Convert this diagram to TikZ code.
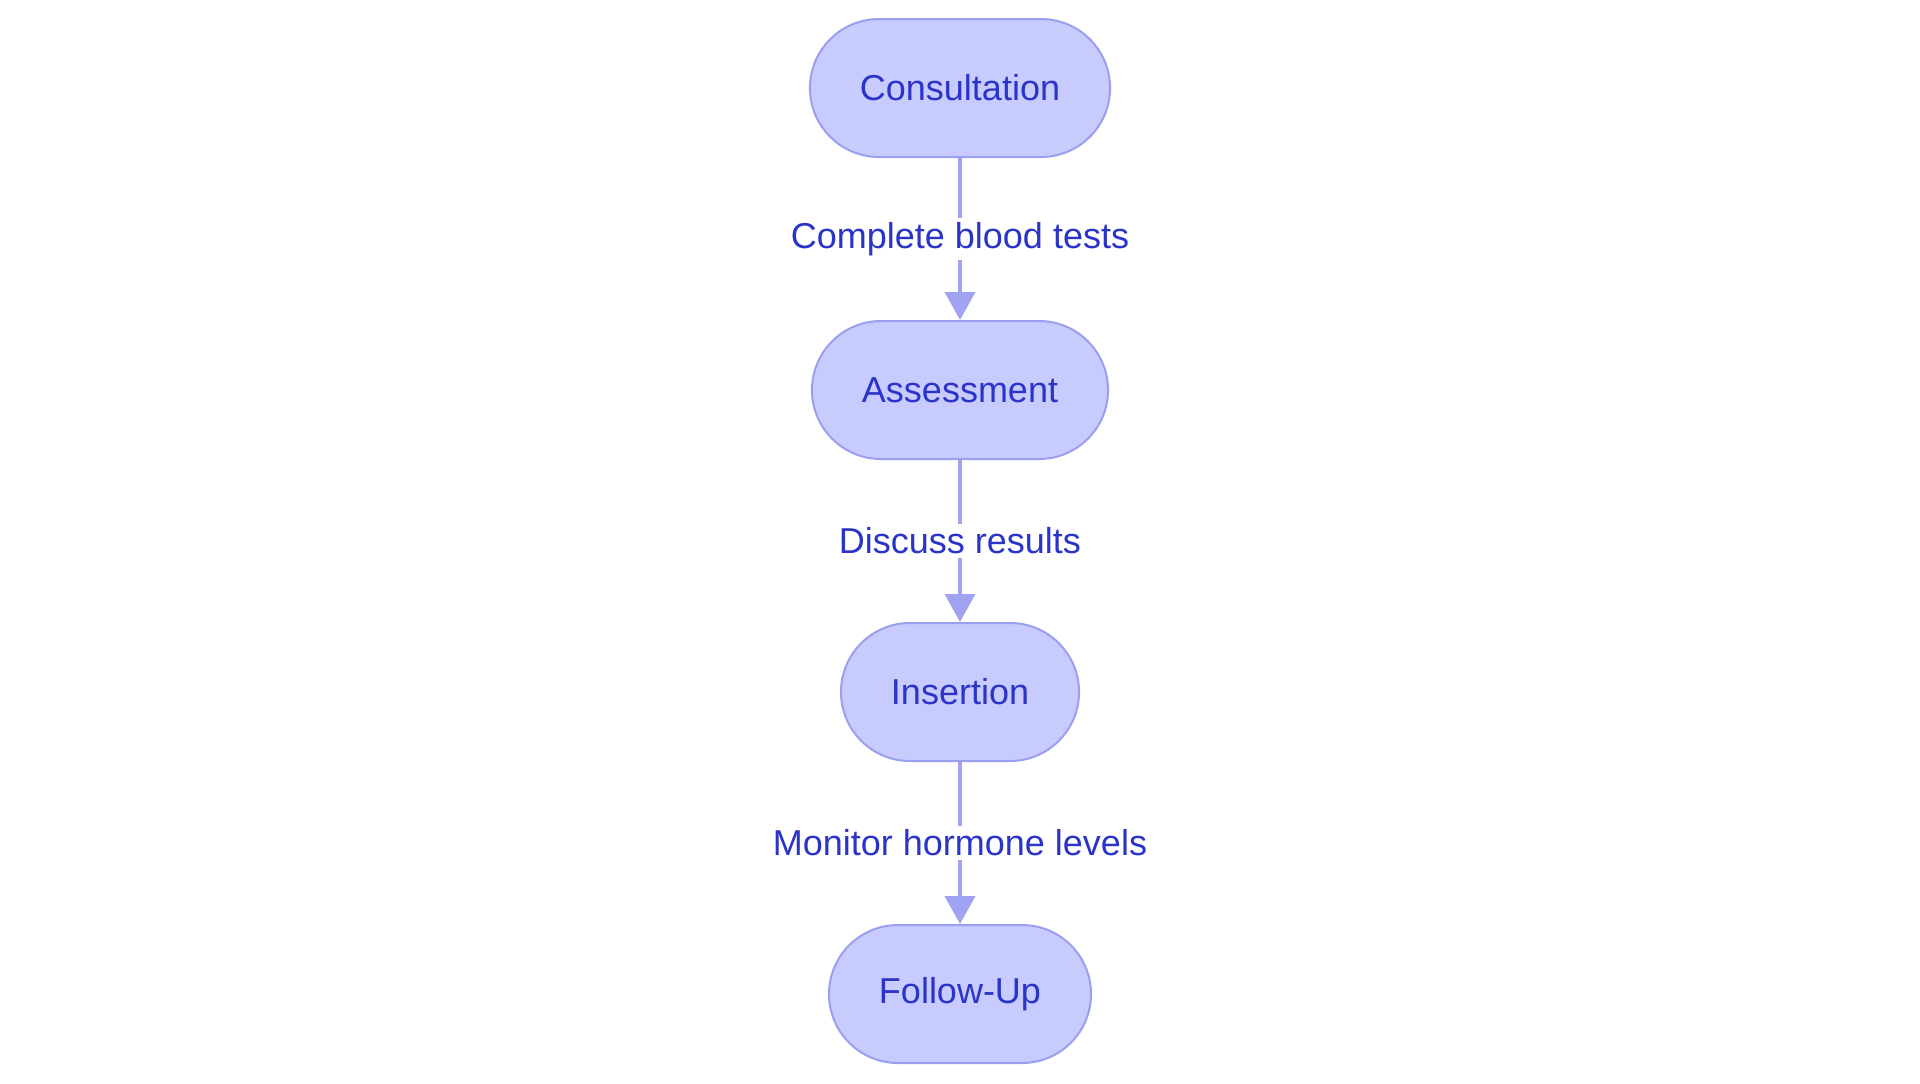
\documentclass[tikz,border=0pt]{standalone}
\usepackage{fontspec}
\setmainfont{Liberation Sans}
\usetikzlibrary{positioning}
\usetikzlibrary{arrows.meta}
\definecolor{stepfill}{RGB}{200,203,254}
\definecolor{stepline}{RGB}{154,159,240}
\definecolor{steptext}{RGB}{42,52,200}
\definecolor{flowline}{RGB}{159,163,242}
\begin{document}
\begin{tikzpicture}[
    stage/.style={draw=stepline, line width=1pt, fill=stepfill,
      rounded corners=34.5pt, minimum height=69pt, inner xsep=25pt,
      text=steptext, font=\fontsize{18}{22}\selectfont},
    flow/.style={draw=flowline, line width=2pt,
      -{Triangle[width=15pt,length=14pt]}},
    flowlabel/.style={fill=white, text=steptext, inner sep=2pt,
      font=\fontsize{18}{22}\selectfont},
    node distance=81pt]
  % page frame
  \useasboundingbox (0,0) rectangle (960pt,-541.5pt);
  % draw stages
  \node[stage] (consult) at (480pt,-44pt) {Consultation};
  \node[stage, below=of consult] (assess) {Assessment};
  \node[stage, below=of assess] (insert) {Insertion};
  \node[stage, below=of insert] (follow) {Follow-Up};
  % draw arrows
  \draw[flow] (consult) -- node[flowlabel] {Complete blood tests} (assess);
  \draw[flow] (assess) -- node[flowlabel] {Discuss results} (insert);
  \draw[flow] (insert) -- node[flowlabel] {Monitor hormone levels} (follow);
\end{tikzpicture}
\end{document}
